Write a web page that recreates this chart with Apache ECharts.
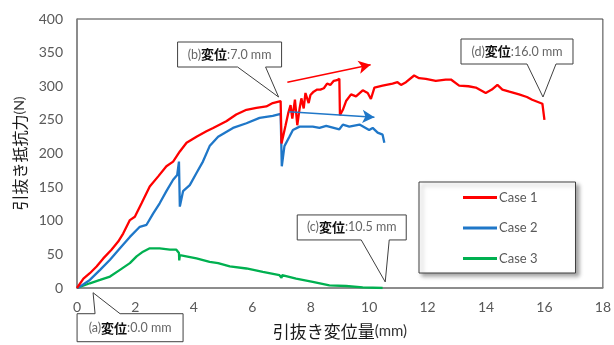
<!DOCTYPE html>
<html>
<head>
<meta charset="utf-8">
<script src="https://cdn.jsdelivr.net/npm/echarts@6/dist/echarts.min.js"></script>
<style>
html,body{margin:0;padding:0;background:#fff;}
#main{width:614px;height:345px;}
</style>
</head>
<body>
<div id="main"></div>
<script>
// ---- data ----
var seriesNames = ['Case 1', 'Case 2', 'Case 3'];
var xTicks = [0, 2, 4, 6, 8, 10, 12, 14, 16, 18];
var yTicks = [0, 50, 100, 150, 200, 250, 300, 350, 400];

var case1 = [[0,0],[0.04,2],[0.22,14],[0.44,22],[0.67,32],[0.9,44],[1.18,57],[1.41,69],[1.58,81],[1.81,101],[1.98,106],[2.21,126],[2.49,151],[2.78,166],[3.06,181],[3.29,188],[3.52,203],[3.75,216],[4.09,225],[4.43,233],[4.66,238],[5.11,248],[5.45,258],[5.8,265],[6.14,268],[6.48,270],[6.7,275],[6.97,278],[7.0,215],[7.14,242],[7.23,260],[7.31,272],[7.37,252],[7.46,280],[7.54,242],[7.62,267],[7.68,282],[7.76,267],[7.82,290],[7.93,275],[7.99,287],[8.1,292],[8.22,295],[8.33,295],[8.45,297],[8.56,304],[8.67,302],[8.79,308],[8.9,309],[8.98,311],[9.0,257],[9.1,265],[9.21,278],[9.38,288],[9.55,285],[9.78,294],[9.95,290],[10.06,281],[10.18,298],[10.46,301],[10.8,304],[10.97,306],[11.09,302],[11.26,306],[11.54,316],[11.71,312],[11.94,311],[12.28,308],[12.62,310],[12.8,310],[13.08,301],[13.4,300],[13.65,298],[13.99,290],[14.2,295],[14.39,302],[14.56,295],[14.8,292],[15.13,288],[15.4,284],[15.58,280],[15.93,274],[15.98,274],[16.0,250]];
var case2 = [[0,0],[0.1,2],[0.44,12],[0.79,27],[1.13,42],[1.47,59],[1.81,76],[2.15,91],[2.38,94],[2.61,111],[2.83,126],[3.06,144],[3.29,161],[3.43,168],[3.49,188],[3.52,121],[3.63,144],[3.86,153],[4.09,171],[4.31,188],[4.54,211],[4.83,225],[5.34,238],[5.8,245],[6.25,253],[6.7,256],[6.97,259],[7.01,181],[7.1,211],[7.27,225],[7.39,235],[7.62,240],[8.07,240],[8.3,238],[8.53,241],[8.98,236],[9.1,243],[9.32,240],[9.67,243],[10.0,235],[10.12,238],[10.29,231],[10.46,228],[10.52,216]];
var case3 = [[0,0],[0.04,2],[0.44,7],[0.79,12],[1.13,17],[1.47,27],[1.81,37],[2.04,47],[2.26,54],[2.49,59],[2.83,59],[3.18,57],[3.4,57],[3.49,52],[3.5,41],[3.52,49],[4.09,44],[4.54,39],[4.83,37],[5.23,32],[5.8,29],[6.36,24],[6.93,19],[7.0,15],[7.02,19],[7.5,14],[8.07,9],[8.64,4],[9.21,3],[9.78,1],[10.46,0]];

// trend arrows (data coords: start, end)
var arrowCase1 = [[7.2, 306], [10.05, 332]];
var arrowCase2 = [[7.25, 262], [10.18, 254]];

// callouts: label, displacement text, tip point (data coords)
var calloutTags = ['(a)', '(b)', '(c)', '(d)'];
var calloutValues = ['0.0 mm', '7.0 mm', '10.5 mm', '16.0 mm'];
var calloutTips = [[0.55, -7], [6.9, 284], [10.55, 9], [15.95, 284]];

// ---- chart ----
var colors = ['#ff0000', '#1f77c8', '#00b050'];
var numFont = 'Lato, "Liberation Sans", sans-serif';
var cjkFont = '"Noto Sans CJK JP", sans-serif';

var chart = echarts.init(document.getElementById('main'), null, {renderer: 'canvas'});

function mkSeries(i, data, arrow) {
  var s = {
    name: seriesNames[i],
    type: 'line',
    data: data,
    symbol: 'none',
    animation: false,
    lineStyle: {color: colors[i], width: 2.3},
    itemStyle: {color: colors[i]},
    z: 3 - i
  };
  if (arrow) {
    s.markLine = {
      silent: true,
      animation: false,
      symbol: ['none', 'arrow'],
      symbolSize: [10, 12],
      label: {show: false},
      lineStyle: {color: colors[i], width: 1.5, type: 'solid'},
      data: [[{coord: arrow[0]}, {coord: arrow[1]}]]
    };
  }
  return s;
}

chart.setOption({
  animation: false,
  backgroundColor: '#fff',
  grid: {left: 77, top: 19, right: 10, bottom: 57, show: true, borderColor: '#404040', borderWidth: 1, backgroundColor: 'transparent'},
  xAxis: {
    type: 'value', min: xTicks[0], max: xTicks[xTicks.length - 1], interval: 2,
    axisLine: {show: true, lineStyle: {color: '#868686', width: 1.5}},
    axisTick: {show: false},
    splitLine: {show: false},
    axisLabel: {color: '#595959', fontFamily: numFont, fontSize: 14, margin: 12},
    name: '{c|引抜き変位量}{l|(mm)}',
    nameLocation: 'middle',
    nameGap: 35,
    nameTextStyle: {
      rich: {
        c: {fontFamily: cjkFont, fontSize: 17, color: '#1a1a1a'},
        l: {fontFamily: numFont, fontSize: 15, color: '#333'}
      }
    }
  },
  yAxis: {
    type: 'value', min: yTicks[0], max: yTicks[yTicks.length - 1], interval: 50,
    axisLine: {show: true, lineStyle: {color: '#868686', width: 1.5}},
    axisTick: {show: false},
    splitLine: {show: false},
    axisLabel: {color: '#595959', fontFamily: numFont, fontSize: 14, margin: 14},
    name: '{c|引抜き抵抗力}{l|(N)}',
    nameLocation: 'middle',
    nameRotate: 90,
    nameGap: 48,
    nameTextStyle: {
      rich: {
        c: {fontFamily: cjkFont, fontSize: 16, color: '#1a1a1a'},
        l: {fontFamily: numFont, fontSize: 14, color: '#333'}
      }
    }
  },
  legend: {
    orient: 'vertical',
    left: 419, top: 182,
    padding: [9, 38, 8, 44],
    itemWidth: 34, itemHeight: 3,
    itemGap: 17.5,
    icon: 'rect',
    backgroundColor: '#fff',
    borderColor: '#404040', borderWidth: 1,
    shadowBlur: 4, shadowOffsetX: 3, shadowOffsetY: 3, shadowColor: 'rgba(0,0,0,0.35)',
    textStyle: {color: '#595959', fontFamily: numFont, fontSize: 13, padding: [0, 0, 0, -3]},
    data: seriesNames
  },
  series: [
    mkSeries(0, case1, arrowCase1),
    mkSeries(1, case2, arrowCase2),
    mkSeries(2, case3, null)
  ]
});

// callout boxes, anchored to their tip points via the chart's scales
// geometry offsets relative to tip: [left, right, top, bottom, baseL, baseR, side]
var calloutGeom = [
  [-16, 90, 21, 49, 2, 27, 'top'],
  [-101, 3, -55, -30, -41, -13, 'bottom'],
  [-88, 21, -67, -42, -24, 4, 'bottom'],
  [-82, 30, -58, -33, -16, 13, 'bottom']
];
var graphics = [];
for (var i = 0; i < calloutTips.length; i++) {
  var tip = chart.convertToPixel({gridIndex: 0}, calloutTips[i]);
  var g = calloutGeom[i];
  var x0 = tip[0] + g[0], x1 = tip[0] + g[1], y0 = tip[1] + g[2], y1 = tip[1] + g[3];
  var b0 = tip[0] + g[4], b1 = tip[0] + g[5];
  var pts;
  if (g[6] === 'bottom') {
    pts = [[x0, y0], [x1, y0], [x1, y1], [b1, y1], [tip[0], tip[1]], [b0, y1], [x0, y1]];
  } else {
    pts = [[x0, y0], [b0, y0], [tip[0], tip[1]], [b1, y0], [x1, y0], [x1, y1], [x0, y1]];
  }
  graphics.push({
    type: 'polygon', z: 100,
    shape: {points: pts},
    style: {fill: '#fff', stroke: '#404040', lineWidth: 1}
  });
  graphics.push({
    type: 'text', z: 101,
    x: (x0 + x1) / 2, y: (y0 + y1) / 2,
    style: {
      text: '{g|' + calloutTags[i] + '}{k|変位}{g|:' + calloutValues[i] + '}',
      align: 'center', verticalAlign: 'middle',
      rich: {
        g: {fontFamily: numFont, fontSize: 12.5, fill: '#666'},
        k: {fontFamily: cjkFont, fontSize: 13, fontWeight: 'bold', fill: '#111'}
      }
    }
  });
}
chart.setOption({graphic: graphics});
</script>
</body>
</html>
